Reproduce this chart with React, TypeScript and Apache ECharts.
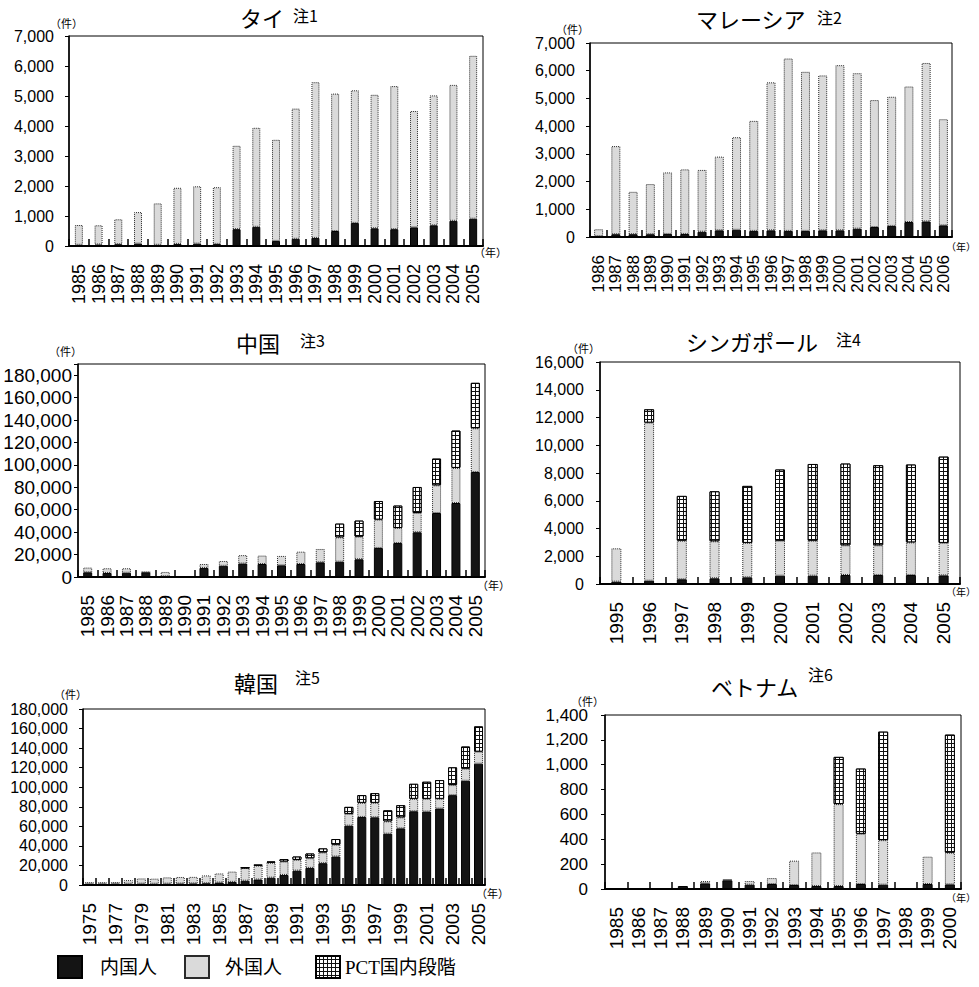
import React, { useEffect, useRef } from "react";
import * as echarts from "echarts";

// ---------- data ----------
const thYears = ["1985","1986","1987","1988","1989","1990","1991","1992","1993","1994","1995","1996","1997","1998","1999","2000","2001","2002","2003","2004","2005"];
const thDomestic = [40, 50, 60, 80, 40, 70, 80, 70, 560, 640, 170, 240, 270, 500, 770, 590, 560, 620, 690, 840, 910];
const thForeign = [660, 640, 830, 1050, 1380, 1870, 1910, 1890, 2780, 3300, 3370, 4340, 5190, 4580, 4420, 4450, 4770, 3880, 4330, 4530, 5430];

const myYears = ["1986","1987","1988","1989","1990","1991","1992","1993","1994","1995","1996","1997","1998","1999","2000","2001","2002","2003","2004","2005","2006"];
const myDomestic = [30, 100, 100, 100, 110, 110, 190, 240, 260, 220, 240, 220, 220, 240, 240, 300, 360, 400, 540, 560, 420];
const myForeign = [250, 3180, 1530, 1810, 2220, 2330, 2230, 2660, 3340, 3970, 5340, 6220, 5740, 5590, 5960, 5610, 4580, 4660, 4890, 5720, 3830];

const cnYears = ["1985","1986","1987","1988","1989","1990","1991","1992","1993","1994","1995","1996","1997","1998","1999","2000","2001","2002","2003","2004","2005"];
const cnDomestic = [4200, 3600, 3800, 4200, 600, 0, 8100, 10000, 12000, 11600, 10400, 11600, 13100, 13700, 15800, 25900, 30300, 39900, 57100, 66000, 93700];
const cnForeign = [4200, 4200, 4000, 300, 3900, 0, 3500, 4300, 7500, 7500, 8400, 11000, 11900, 21700, 20200, 25300, 13400, 17200, 24700, 31300, 39000];
const cnPct = [0, 0, 0, 0, 0, 0, 0, 0, 0, 0, 0, 0, 0, 12200, 14300, 16600, 20000, 23200, 23800, 33300, 40500];

const sgYears = ["1995","1996","1997","1998","1999","2000","2001","2002","2003","2004","2005"];
const sgDomestic = [170, 240, 340, 410, 480, 600, 600, 650, 650, 650, 620];
const sgForeign = [2400, 11390, 2780, 2670, 2480, 2520, 2520, 2140, 2140, 2350, 2340];
const sgPct = [0, 960, 3230, 3600, 4110, 5130, 5530, 5890, 5770, 5610, 6220];

const krYears = ["1975","1976","1977","1978","1979","1980","1981","1982","1983","1984","1985","1986","1987","1988","1989","1990","1991","1992","1993","1994","1995","1996","1997","1998","1999","2000","2001","2002","2003","2004","2005"];
const krDomestic = [1200, 1300, 1400, 1300, 1400, 1300, 1400, 1500, 1600, 1800, 2500, 3200, 4400, 5600, 7500, 10300, 14700, 17500, 22300, 29100, 60700, 69600, 69200, 52500, 57900, 75400, 75100, 78200, 91900, 106600, 124100];
const krForeign = [1700, 1500, 1500, 3700, 5300, 5200, 6400, 6700, 6700, 8000, 9300, 10500, 13000, 14300, 15300, 13700, 11000, 9900, 11000, 12100, 12000, 14400, 14800, 12600, 11300, 12700, 13000, 9900, 10300, 12400, 12300];
const krPct = [0, 0, 0, 0, 0, 0, 0, 0, 0, 0, 0, 0, 400, 700, 1200, 2400, 3400, 4800, 4100, 5800, 7200, 7900, 9900, 11300, 12400, 15400, 17500, 19200, 18100, 22600, 25800];

const vnYears = ["1985","1986","1987","1988","1989","1990","1991","1992","1993","1994","1995","1996","1997","1998","1999","2000"];
const vnDomestic = [0, 8, 0, 24, 45, 70, 35, 40, 32, 24, 24, 40, 35, 0, 40, 37];
const vnForeign = [0, 0, 0, 0, 19, 8, 29, 48, 196, 270, 659, 404, 358, 0, 220, 255];
const vnPct = [0, 0, 0, 0, 0, 0, 0, 0, 0, 0, 380, 525, 873, 0, 0, 950];

const seriesNames = ["内国人", "外国人", "PCT国内段階"];
const titles = ["タイ", "マレーシア", "中国", "シンガポール", "韓国", "ベトナム"];
const notes = ["注1", "注2", "注3", "注4", "注5", "注6"];
const yMaxes = [7000, 7000, 190000, 16000, 180000, 1400];
const yIntervals = [1000, 1000, 20000, 2000, 20000, 200];
const unitCount = "（件）";
const unitYear = "（年）";

// ---------- layout / style ----------
const SANS = "Liberation Sans, Arial, sans-serif";
const CJK = "Noto Sans CJK JP, sans-serif";

const panels = [
  { cats: thYears, dom: thDomestic, frn: thForeign, pct: null as number[] | null, grid: { left: 69, top: 36, width: 414, height: 210 }, barW: 8, xFont: 18, yFont: 16, yMargin: 15, labelInt: 0,
    title: { left: 240, top: 6 }, note: { left: 293, top: 7 }, unitY: { x: 50, y: 17 }, unitX: { x: 474, y: 246, s: 11 } },
  { cats: myYears, dom: myDomestic, frn: myForeign, pct: null as number[] | null, grid: { left: 590, top: 43, width: 362, height: 194 }, barW: 9, xFont: 17, yFont: 16, yMargin: 15, labelInt: 0,
    title: { left: 696, top: 7 }, note: { left: 817, top: 9 }, unitY: { x: 556, y: 23 }, unitX: { x: 946, y: 241, s: 10 } },
  { cats: cnYears, dom: cnDomestic, frn: cnForeign, pct: cnPct, grid: { left: 78, top: 364, width: 407, height: 213 }, barW: 9, xFont: 19, yFont: 19, yMargin: 6, labelInt: 0,
    title: { left: 236, top: 331 }, note: { left: 300, top: 332 }, unitY: { x: 49, y: 345 }, unitX: { x: 477, y: 579, s: 11 } },
  { cats: sgYears, dom: sgDomestic, frn: sgForeign, pct: sgPct, grid: { left: 600, top: 362, width: 360, height: 222 }, barW: 10, xFont: 19, yFont: 16, yMargin: 16, labelInt: 0,
    title: { left: 686, top: 330 }, note: { left: 836, top: 331 }, unitY: { x: 567, y: 342 }, unitX: { x: 946, y: 586, s: 10 } },
  { cats: krYears, dom: krDomestic, frn: krForeign, pct: krPct, grid: { left: 83, top: 709, width: 402, height: 176 }, barW: 9, xFont: 19, yFont: 16, yMargin: 15, labelInt: 1,
    title: { left: 234, top: 671 }, note: { left: 295, top: 669 }, unitY: { x: 54, y: 688 }, unitX: { x: 476, y: 887, s: 11 } },
  { cats: vnYears, dom: vnDomestic, frn: vnForeign, pct: vnPct, grid: { left: 605, top: 715, width: 356, height: 174 }, barW: 10, xFont: 19, yFont: 17, yMargin: 17, labelInt: 0,
    title: { left: 711, top: 675 }, note: { left: 808, top: 666 }, unitY: { x: 571, y: 695 }, unitX: { x: 946, y: 892, s: 10 } },
];

const domStyle = { color: "#141414", borderColor: "#000", borderWidth: 1 };
const frnStyle = { color: "#dadada", borderColor: "#2a2a2a", borderWidth: 1, borderType: "dotted" };
const pctStyle = {
  color: "#111",
  borderColor: "#000",
  borderWidth: 1,
  decal: { symbol: "rect", symbolSize: 1, color: "#ffffff", dashArrayX: [[3, 1]], dashArrayY: [3, 1], rotation: 0 },
};

const fmt = (max: number) => (v: number) => (v >= max && max > 100000 && max % 20000 !== 0 ? "" : v.toLocaleString("en-US"));

function buildOption() {
  const grid: any[] = [];
  const xAxis: any[] = [];
  const yAxis: any[] = [];
  const series: any[] = [];
  const title: any[] = [];
  const graphic: any[] = [];

  panels.forEach((p, i) => {
    grid.push({ ...p.grid, containLabel: false, show: true, borderColor: "#000", borderWidth: 1, backgroundColor: "transparent" });
    xAxis.push({
      type: "category",
      gridIndex: i,
      data: p.cats,
      boundaryGap: true,
      axisLine: { show: true, lineStyle: { color: "#000", width: 2 } },
      axisTick: { show: true, inside: true, length: 7, interval: 0, lineStyle: { color: "#000", width: 1.5 } },
      axisLabel: { rotate: 90, interval: p.labelInt, margin: 18, color: "#000", fontSize: p.xFont, fontFamily: SANS },
      splitLine: { show: false },
    });
    yAxis.push({
      type: "value",
      gridIndex: i,
      min: 0,
      max: yMaxes[i],
      interval: yIntervals[i],
      axisLine: { show: true, lineStyle: { color: "#000", width: 1.5 } },
      axisTick: { show: true, inside: false, length: 4, lineStyle: { color: "#000", width: 1 } },
      axisLabel: { margin: p.yMargin, color: "#000", fontSize: p.yFont, fontFamily: SANS, formatter: fmt(yMaxes[i]) },
      splitLine: { show: false },
    });
    const mk = (name: string, data: number[], style: any) => ({
      type: "bar",
      name,
      xAxisIndex: i,
      yAxisIndex: i,
      stack: "s" + i,
      barWidth: p.barW,
      data: data.map((v) => (v === 0 ? "-" : v)),
      itemStyle: style,
      emphasis: { disabled: true },
    });
    series.push(mk(seriesNames[0], p.dom, domStyle));
    series.push(mk(seriesNames[1], p.frn, frnStyle));
    if (p.pct) series.push(mk(seriesNames[2], p.pct, pctStyle));

    title.push({ text: titles[i], left: p.title.left, top: p.title.top, padding: 0, textStyle: { fontSize: 22, fontWeight: "normal", color: "#000", fontFamily: CJK } });
    title.push({ text: notes[i], left: p.note.left, top: p.note.top, padding: 0, textStyle: { fontSize: 16, fontWeight: "normal", color: "#000", fontFamily: CJK } });

    graphic.push({ type: "text", left: p.unitY.x, top: p.unitY.y, style: { text: unitCount, fontSize: 11, fill: "#000", fontFamily: CJK } });
    graphic.push({ type: "text", left: p.unitX.x, top: p.unitX.y, style: { text: unitYear, fontSize: p.unitX.s, fill: "#000", fontFamily: CJK } });
  });

  const legendBase = {
    orient: "horizontal",
    top: 955,
    padding: 0,
    itemWidth: 24,
    itemHeight: 22,
    icon: "rect",
    selectedMode: false,
    textStyle: { fontSize: 19, lineHeight: 22, color: "#000", fontFamily: "Liberation Serif, Noto Sans CJK JP, serif" },
  };
  const legend = [
    { ...legendBase, left: 57, data: [seriesNames[0]], textStyle: { ...legendBase.textStyle, padding: [0, 0, 0, 13] } },
    { ...legendBase, left: 184, data: [seriesNames[1]], textStyle: { ...legendBase.textStyle, padding: [0, 0, 0, 11] } },
    { ...legendBase, left: 315, data: [seriesNames[2]], textStyle: { ...legendBase.textStyle, padding: [0, 0, 0, 0] } },
  ];

  return { animation: false, backgroundColor: "#fff", grid, xAxis, yAxis, series, title, graphic, legend };
}

export default function App() {
  const ref = useRef<HTMLDivElement>(null);
  useEffect(() => {
    if (!ref.current) return;
    const chart = echarts.init(ref.current, null, { renderer: "svg" });
    chart.setOption(buildOption() as any);
    return () => chart.dispose();
  }, []);
  return <div ref={ref} style={{ position: "fixed", left: 0, top: 0, width: 979, height: 987, background: "#fff" }} />;
}
